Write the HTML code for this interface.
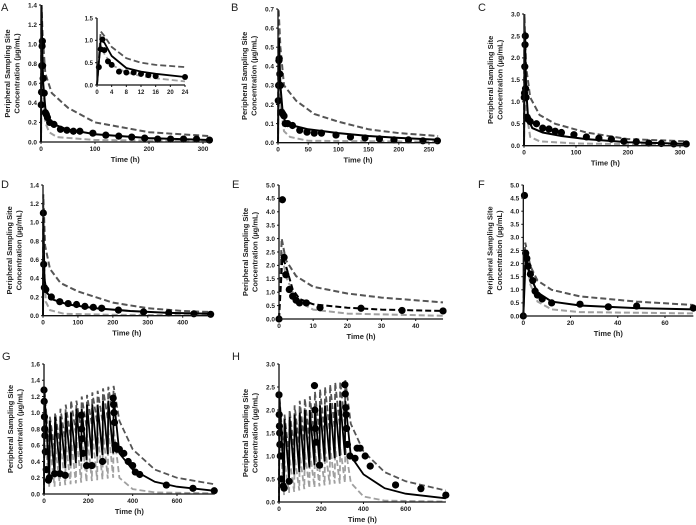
<!DOCTYPE html>
<html><head><meta charset="utf-8">
<style>
html,body{margin:0;padding:0;background:#fff;}
svg{display:block;font-family:"Liberation Sans",sans-serif;}
.tk{font-size:6.5px;font-weight:bold;fill:#222;}
.al{font-size:7.5px;font-weight:bold;fill:#222;}
.pl{font-size:11px;fill:#222;}
</style></head>
<body>
<svg id="fig" width="696" height="525" viewBox="0 0 696 525"></svg>
<script>
// ---------- Panel A ----------
const aObsT=[0.5,1,1.5,2,2.5,3,4,6,8,10,12,16,24,36,48,60,72,96,120,144,168,192,216,240,264,288,312];
const aObsC=[0.38,0.51,0.78,0.98,1.03,0.78,0.65,0.5,0.3,0.28,0.25,0.2,0.18,0.13,0.12,0.11,0.11,0.09,0.07,0.06,0.05,0.04,0.03,0.03,0.03,0.03,0.02];
const aMedT=[0,1,2,4,8,12,24,48,100,200,312], aMedC=[0,1.4,1.0,0.6,0.35,0.25,0.18,0.13,0.08,0.04,0.02];
const aUpT=[0,1,3,8,20,50,100,200,312], aUpC=[0,1.4,1.1,0.7,0.5,0.35,0.2,0.1,0.06];
const aLoT=[0,1,3,8,15,30,100,312], aLoC=[0,1.1,0.6,0.2,0.1,0.05,0.02,0.01];
// inset A
const aiObsT=[0.5,1,1.5,2,3,4,6,8,10,12,14,16,24];
const aiObsC=[0.4,0.8,1.02,0.78,0.53,0.45,0.3,0.28,0.28,0.25,0.22,0.2,0.18];
const aiMedT=[0,1,2,4,8,12,16,24], aiMedC=[0,1.0,0.95,0.65,0.38,0.3,0.25,0.18];
const aiUpT=[0,1,2,4,8,12,16,24], aiUpC=[0,1.2,1.1,0.85,0.6,0.5,0.45,0.4];
const aiLoT=[0,1,2,4,8,12,16,24], aiLoC=[0,0.9,0.7,0.45,0.28,0.2,0.15,0.08];
// ---------- Panel B ----------
const bObsT=[0.5,1,1.5,2,3,4,6,8,10,12,16,24,36,48,60,72,96,120,144,168,192,216,240,264];
const bObsC=[0.22,0.3,0.43,0.44,0.36,0.3,0.16,0.15,0.14,0.1,0.1,0.09,0.065,0.055,0.05,0.05,0.04,0.03,0.025,0.02,0.015,0.015,0.01,0.01];
const bMedT=[0,1.5,4,8,12,24,50,100,150,200,265], bMedC=[0,0.55,0.3,0.15,0.11,0.09,0.07,0.05,0.035,0.025,0.015];
const bUpT=[0,1,4,10,30,60,100,150,200,265], bUpC=[0,0.7,0.5,0.3,0.22,0.15,0.11,0.07,0.05,0.035];
const bLoT=[0,1,4,10,20,50,265], bLoC=[0,0.6,0.2,0.06,0.03,0.01,0.005];
// ---------- Panel C ----------
const cObsT=[0.5,1,1.5,2,2.5,3,4,6,8,12,24,36,48,60,72,96,120,144,168,192,216,240,264,288,312];
const cObsC=[1.1,1.2,1.8,2.3,2.5,1.3,1.1,0.65,0.6,0.55,0.5,0.4,0.38,0.33,0.3,0.25,0.2,0.17,0.15,0.1,0.09,0.06,0.05,0.04,0.04];
const cMedT=[0,1.5,4,8,16,36,72,120,200,313], cMedC=[0,2.6,1.3,0.6,0.4,0.3,0.22,0.15,0.08,0.04];
const cUpT=[0,1,4,12,30,60,120,200,313], cUpC=[0,3.0,1.8,1.1,0.7,0.5,0.3,0.15,0.1];
const cLoT=[0,1,4,12,30,100,313], cLoC=[0,2.0,0.8,0.2,0.1,0.05,0.02];
// ---------- Panel D ----------
const dObsT=[1,2,4,8,24,48,72,96,120,144,168,216,288,360,432,480];
const dObsC=[1.1,0.55,0.3,0.28,0.2,0.15,0.13,0.12,0.1,0.09,0.08,0.06,0.04,0.03,0.02,0.015];
const dMedT=[0,1,4,10,30,72,150,250,360,480], dMedC=[0,1.05,0.4,0.25,0.17,0.12,0.08,0.05,0.03,0.02];
const dUpT=[0,1,6,20,50,100,200,300,400,480], dUpC=[0,1.3,0.75,0.5,0.35,0.26,0.14,0.08,0.05,0.04];
const dLoT=[0,1,8,20,60,200,480], dLoC=[0,0.8,0.15,0.06,0.02,0.01,0.005];
// ---------- Panel E ----------
const eObsT=[0,1,1.5,2,3,4,5,6,8,12,24,36,48];
const eObsC=[0,4.45,2.3,1.65,1.1,0.85,0.7,0.6,0.6,0.42,0.4,0.32,0.3];
const eMedT=[0,1,2,4,6,10,20,30,48], eMedC=[0,2.3,2.0,1.1,0.75,0.55,0.42,0.35,0.3];
const eUpT=[0,0.8,2,5,10,20,30,48], eUpC=[0,3.0,2.2,1.6,1.2,0.95,0.8,0.62];
const eLoT=[0,0.8,2,5,10,20,48], eLoC=[0,2.5,1.6,0.7,0.35,0.2,0.12];
// ---------- Panel F ----------
const fObsT=[0,0.5,1,1.5,2,3,4,5,6,8,12,24,36,48,72];
const fObsC=[0,4.6,2.4,2.2,1.9,1.6,1.35,0.95,0.8,0.65,0.5,0.45,0.35,0.38,0.3];
const fMedT=[0,1,3,6,12,24,48,72], fMedC=[0,2.3,1.5,0.9,0.55,0.4,0.3,0.25];
const fUpT=[0,0.8,3,6,12,24,48,72], fUpC=[0,2.8,1.9,1.35,1.0,0.75,0.55,0.42];
const fLoT=[0,0.8,3,6,12,24,72], fLoC=[0,2.5,1.2,0.55,0.25,0.15,0.1];
// ---------- Multi-dose G/H ----------
const doseTimes=[0,24,48,72,96,120,144,168,192,216,240,264,288,312];
const gMedPeak=[1.25,0.9,0.95,0.95,1.0,1.0,1.05,1.05,1.1,1.1,1.1,1.15,1.15,1.2];
const gMedTrough=[0.2,0.25,0.28,0.32,0.35,0.38,0.4,0.42,0.44,0.46,0.48,0.49,0.5,0.5];
const gMedTailT=[340,400,500,600,770], gMedTailC=[0.5,0.3,0.15,0.09,0.04];
const gUpPeak=[1.3,0.95,1.0,1.05,1.1,1.15,1.15,1.2,1.22,1.25,1.27,1.3,1.32,1.33];
const gUpTrough=[0.5,0.55,0.6,0.65,0.7,0.75,0.78,0.82,0.85,0.88,0.9,0.92,0.95,0.98];
const gUpTailT=[340,400,500,600,770], gUpTailC=[0.9,0.55,0.3,0.2,0.12];
const gLoPeak=[0.8,0.6,0.6,0.62,0.65,0.68,0.7,0.72,0.74,0.75,0.76,0.78,0.8,0.8];
const gLoTrough=[0.08,0.09,0.1,0.11,0.12,0.13,0.14,0.15,0.16,0.17,0.18,0.19,0.2,0.2];
const gLoTailT=[340,400,500,770], gLoTailC=[0.2,0.06,0.02,0.01];
const gObsT=[0,1,2,3,4,6,10,20,24,48,72,96,168,170,172,176,192,216,264,312,314,316,318,320,330,340,360,380,400,412,432,552,672,768];
const gObsC=[1.28,1.14,0.95,0.8,0.72,0.52,0.3,0.17,0.2,0.25,0.25,0.23,0.97,0.8,0.68,0.5,0.35,0.35,0.4,1.18,1.1,1.0,0.88,0.6,0.55,0.55,0.5,0.4,0.35,0.27,0.24,0.11,0.07,0.04];
const hMedPeak=[2.3,1.8,1.85,1.9,1.95,2.0,2.0,2.05,2.1,2.1,2.15,2.15,2.2,2.2];
const hMedTrough=[0.4,0.5,0.6,0.65,0.7,0.75,0.8,0.85,0.88,0.92,0.95,1.0,1.02,1.05];
const hMedTailT=[340,400,500,600,790], hMedTailC=[1.0,0.6,0.3,0.18,0.08];
const hUpPeak=[2.3,1.9,2.0,2.1,2.2,2.25,2.3,2.4,2.45,2.5,2.55,2.6,2.62,2.65];
const hUpTrough=[0.9,1.0,1.1,1.2,1.3,1.35,1.4,1.45,1.5,1.55,1.6,1.65,1.7,1.75];
const hUpTailT=[340,400,500,600,790], hUpTailC=[1.7,1.1,0.65,0.45,0.25];
const hLoPeak=[1.5,0.9,0.95,1.0,1.05,1.1,1.1,1.15,1.15,1.2,1.2,1.2,1.2,1.2];
const hLoTrough=[0.15,0.2,0.22,0.25,0.28,0.3,0.32,0.34,0.36,0.38,0.4,0.4,0.42,0.42];
const hLoTailT=[340,400,500,790], hLoTailC=[0.42,0.12,0.03,0.01];
const hObsT=[0,1,2,3,4,6,10,20,24,48,168,170,172,176,192,312,314,316,318,320,324,336,360,370,384,408,432,552,672,790];
const hObsC=[2.33,1.9,1.65,1.5,1.25,1.0,0.5,0.35,0.3,0.45,2.53,2.0,1.6,1.3,0.8,2.55,2.35,2.05,1.9,1.6,1.25,1.0,0.95,1.17,1.17,1.0,0.78,0.37,0.29,0.15];

const NS='http://www.w3.org/2000/svg';
const svg=document.getElementById('fig');
function mk(tag,attrs,parent){const e=document.createElementNS(NS,tag);for(const k in attrs)e.setAttribute(k,attrs[k]);(parent||svg).appendChild(e);return e;}

function sawtooth(peaks,troughs,tailT,tailC){
  const T=[0],C=[0];
  for(let i=0;i<doseTimes.length;i++){
    T.push(doseTimes[i]+2);C.push(peaks[i]);
    if(i<doseTimes.length-1){T.push(doseTimes[i+1]);C.push(troughs[i]);}
  }
  for(let j=0;j<tailT.length;j++){T.push(tailT[j]);C.push(tailC[j]);}
  return [T,C];
}

function panel(p){
  const g=mk('g',{});
  
  
  const sx=t=>p.x0+(t/p.xRef)*(p.xRefPx-p.x0);
  const sy=c=>p.yB-(c/p.ymax)*(p.yB-p.yT);
  const xEnd=sx(p.xmax);
  const pts=(T,C)=>T.map((t,i)=>sx(t).toFixed(1)+','+sy(C[i]).toFixed(1)).join(' ');
  // series
  const lo=mk('polyline',{points:pts(p.lo[0],p.lo[1]),fill:'none',stroke:'#a0a0a0','stroke-width':p.lw||2,'stroke-dasharray':'6,3'},g);
  
  
  const up=mk('polyline',{points:pts(p.up[0],p.up[1]),fill:'none',stroke:'#555','stroke-width':p.lw||2,'stroke-dasharray':'6,3'},g);
  
  
  const md=mk('polyline',{points:pts(p.med[0],p.med[1]),fill:'none',stroke:'#000','stroke-width':p.lw||2,'stroke-dasharray':p.medDash?'6,3':'none'},g);
  
  
  for(let i=0;i<p.obs[0].length;i++){
    const c=mk('circle',{cx:sx(p.obs[0][i]),cy:sy(p.obs[1][i]),r:p.r||3.6,fill:'#000'},g);
    
    
  }
  // axes
  const ax=mk('path',{d:`M${p.x0},${p.yT}V${p.yB}H${xEnd}`,fill:'none',stroke:'#111','stroke-width':1.3},g);
  
  
  p.yt.forEach(v=>{
    mk('line',{x1:p.x0-2,x2:p.x0,y1:sy(v),y2:sy(v),stroke:'#111','stroke-width':1},g);
    const t=mk('text',{x:p.x0-4,y:sy(v)+2.3,'text-anchor':'end',class:'tk',style:p.fs?`font-size:${p.fs}px`:''},g);
    t.textContent=v.toFixed(p.ydec);
    
    
  });
  p.xt.forEach(v=>{
    mk('line',{x1:sx(v),x2:sx(v),y1:p.yB,y2:p.yB+2,stroke:'#111','stroke-width':1},g);
    const t=mk('text',{x:sx(v),y:p.yB+9,'text-anchor':'middle',class:'tk',style:p.fs?`font-size:${p.fs}px`:''},g);
    t.textContent=v;
    
    
  });
  if(p.inset) return;
  const xl=mk('text',{x:(p.x0+xEnd)/2,y:p.yB+20,'text-anchor':'middle',class:'al'},g);
  xl.textContent='Time (h)';
  
  
  const cy=(p.yT+p.yB)/2;
  const yl=mk('text',{transform:`translate(${p.x0-31},${cy}) rotate(-90)`,'text-anchor':'middle',class:'al'},g);
  
  
  const s1=mk('tspan',{x:0,y:0},yl);s1.textContent='Peripheral Sampling Site';
  const s2=mk('tspan',{x:0,y:9.5},yl);s2.textContent='Concentration (µg/mL)';
  const lb=mk('text',{x:p.lx,y:p.ly,class:'pl'},g);
  lb.textContent=p.letter;
  
  
}

panel({name:'panel-a',letter:'A',lx:1,ly:11,x0:41,xRef:300,xRefPx:203,xmax:312,yT:5,yB:142,ymax:1.4,ydec:1,
  yt:[0,0.2,0.4,0.6,0.8,1.0,1.2,1.4],xt:[0,100,200,300],
  obs:[aObsT,aObsC],med:[aMedT,aMedC],up:[aUpT,aUpC],lo:[aLoT,aLoC]});
panel({name:'panel-a-inset',inset:true,x0:97,xRef:24,xRefPx:185,xmax:24,yT:18,yB:85,ymax:1.5,ydec:1,fs:6,r:3,lw:1.8,
  yt:[0,0.5,1.0,1.5],xt:[0,4,8,12,16,20,24],
  obs:[aiObsT,aiObsC],med:[aiMedT,aiMedC],up:[aiUpT,aiUpC],lo:[aiLoT,aiLoC]});
panel({name:'panel-b',letter:'B',lx:231,ly:11,x0:278,xRef:250,xRefPx:429,xmax:265,yT:9,yB:142.7,ymax:0.7,ydec:1,
  yt:[0,0.1,0.2,0.3,0.4,0.5,0.6,0.7],xt:[0,50,100,150,200,250],
  obs:[bObsT,bObsC],med:[bMedT,bMedC],up:[bUpT,bUpC],lo:[bLoT,bLoC]});
panel({name:'panel-c',letter:'C',lx:478,ly:11,x0:524,xRef:300,xRefPx:680,xmax:313,yT:14,yB:145.7,ymax:3.0,ydec:1,
  yt:[0,0.5,1.0,1.5,2.0,2.5,3.0],xt:[0,100,200,300],
  obs:[cObsT,cObsC],med:[cMedT,cMedC],up:[cUpT,cUpC],lo:[cLoT,cLoC]});
panel({name:'panel-d',letter:'D',lx:1,ly:188,x0:43,xRef:400,xRefPx:182.7,xmax:480,yT:185,yB:315.7,ymax:1.4,ydec:1,
  yt:[0,0.2,0.4,0.6,0.8,1.0,1.2,1.4],xt:[0,100,200,300,400],
  obs:[dObsT,dObsC],med:[dMedT,dMedC],up:[dUpT,dUpC],lo:[dLoT,dLoC]});
panel({name:'panel-e',letter:'E',lx:232,ly:188,x0:279,xRef:40,xRefPx:415.7,xmax:48,yT:185,yB:319,ymax:5,ydec:1,medDash:true,
  yt:[0,0.5,1,1.5,2,2.5,3,3.5,4,4.5,5],xt:[0,10,20,30,40],
  obs:[eObsT,eObsC],med:[eMedT,eMedC],up:[eUpT,eUpC],lo:[eLoT,eLoC]});
panel({name:'panel-f',letter:'F',lx:478,ly:188,x0:523.3,xRef:60,xRefPx:665,xmax:72,yT:185,yB:316,ymax:5,ydec:1,
  yt:[0,0.5,1,1.5,2,2.5,3,3.5,4,4.5,5],xt:[0,20,40,60],
  obs:[fObsT,fObsC],med:[fMedT,fMedC],up:[fUpT,fUpC],lo:[fLoT,fLoC]});
panel({name:'panel-g',letter:'G',lx:2,ly:360,x0:44,xRef:600,xRefPx:177,xmax:770,yT:364,yB:494,ymax:1.6,ydec:1,lw:1.8,
  yt:[0,0.2,0.4,0.6,0.8,1.0,1.2,1.4,1.6],xt:[0,200,400,600],
  obs:[gObsT,gObsC],med:sawtooth(gMedPeak,gMedTrough,gMedTailT,gMedTailC),
  up:sawtooth(gUpPeak,gUpTrough,gUpTailT,gUpTailC),lo:sawtooth(gLoPeak,gLoTrough,gLoTailT,gLoTailC)});
panel({name:'panel-h',letter:'H',lx:232,ly:360,x0:279,xRef:600,xRefPx:405.7,xmax:790,yT:364,yB:502,ymax:3.0,ydec:1,lw:1.8,
  yt:[0,0.5,1.0,1.5,2.0,2.5,3.0],xt:[0,200,400,600],
  obs:[hObsT,hObsC],med:sawtooth(hMedPeak,hMedTrough,hMedTailT,hMedTailC),
  up:sawtooth(hUpPeak,hUpTrough,hUpTailT,hUpTailC),lo:sawtooth(hLoPeak,hLoTrough,hLoTailT,hLoTailC)});
</script>
</body></html>
